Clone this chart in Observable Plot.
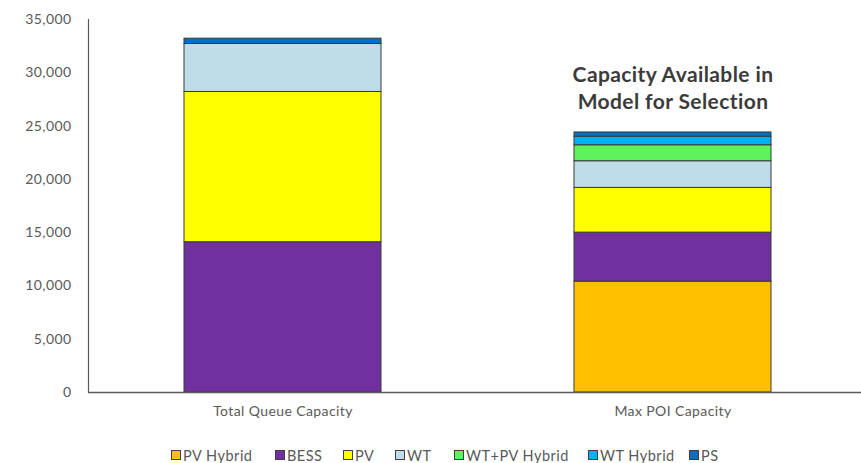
<!DOCTYPE html>
<html>
<head>
<meta charset="utf-8">
<script src="https://cdn.jsdelivr.net/npm/d3@7"></script>
<script src="https://cdn.jsdelivr.net/npm/@observablehq/plot@0.6"></script>
<style>
  body { margin: 0; background: #fff; }
  #chart { width: 861px; }
  .legend { display: flex; align-items: center; height: 24px; padding-top: 11px; padding-left: 171px;
            font-family: Lato, sans-serif; font-size: 14.5px; color: #595959; letter-spacing: 0.5px; }
  .legend .item { display: flex; align-items: center; flex: none; }
  .legend .sw { width: 8px; height: 8px; border: 1px solid #404040; margin-right: 2px; }
</style>
</head>
<body>
<div id="chart"></div>
<script>
// Capacity by technology (MW)
const categories = ["Total Queue Capacity", "Max POI Capacity"];
const technologies = ["PV Hybrid", "BESS", "PV", "WT", "WT+PV Hybrid", "WT Hybrid", "PS"];
const colors = ["#FFC000", "#7030A0", "#FFFF00", "#BFDDE8", "#5DF35D", "#00B0F0", "#0070C0"];
const totalQueueCapacity = [0, 14100, 14100, 4500, 0, 0, 500];
const maxPoiCapacity = [10400, 4600, 4200, 2500, 1500, 800, 400];
const yTicks = [0, 5000, 10000, 15000, 20000, 25000, 30000, 35000];
const note = "Capacity Available in\nModel for Selection";

const rows = [];
[totalQueueCapacity, maxPoiCapacity].forEach((vals, i) => {
  technologies.forEach((t, j) => {
    if (vals[j] > 0) rows.push({category: categories[i], technology: t, value: vals[j]});
  });
});

const plot = Plot.plot({
  width: 861,
  height: 432,
  marginLeft: 88,
  marginRight: 0,
  marginTop: 19,
  marginBottom: 40,
  style: {fontFamily: "Lato, sans-serif", fontSize: "14px", color: "#595959", letterSpacing: "0.4px"},
  x: {domain: categories, range: [88, 867.5], paddingInner: 0.4955, paddingOuter: 0.2458, label: null},
  y: {domain: [0, 35000], label: null},
  color: {domain: technologies, range: colors},
  marks: [
    Plot.axisY({ticks: yTicks, tickFormat: d3.format(","), tickSize: 0, tickPadding: 17, label: null}),
    Plot.axisX({tickSize: 0, tickPadding: 14, label: null}),
    Plot.barY(rows, {x: "category", y: "value", z: "technology", fill: "technology",
                     stroke: "#3a3a3a", strokeWidth: 1, order: technologies}),
    Plot.frame({anchor: "left", stroke: "#595959", strokeWidth: 1.2}),
    Plot.ruleY([0], {stroke: "#595959", strokeWidth: 1.5}),
    Plot.text([note], {x: () => categories[1], frameAnchor: "top", dy: 43, text: d => d,
                       fontSize: 21, fontWeight: "bold", fill: "#3b3b3b", lineHeight: 1.3,
                       letterSpacing: "0px"})
  ]
});
document.getElementById("chart").append(plot);

// Legend below the chart; each entry gets a fixed slot width
const legendSlots = [104, 68, 52, 59, 134, 101, 40];
const legend = document.createElement("div");
legend.className = "legend";
technologies.forEach((t, i) => {
  const item = document.createElement("div");
  item.className = "item";
  item.style.width = legendSlots[i] + "px";
  const sw = document.createElement("span");
  sw.className = "sw";
  sw.style.background = colors[i];
  const lab = document.createElement("span");
  lab.textContent = t;
  item.append(sw, lab);
  legend.append(item);
});
document.getElementById("chart").append(legend);
</script>
</body>
</html>
